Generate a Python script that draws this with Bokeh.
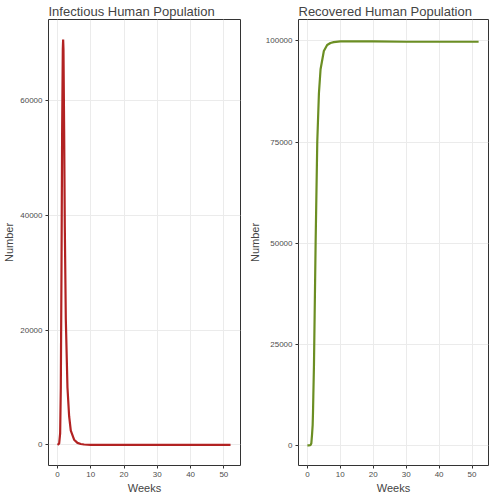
from bokeh.plotting import figure
from bokeh.layouts import row
from bokeh.models import Range1d, NumeralTickFormatter
from bokeh.embed import file_html
from bokeh.resources import INLINE

weeks = [0, 0.5, 0.8, 1.0, 1.2, 1.4, 1.6, 1.7, 1.8, 2.0, 2.2, 2.5, 3.0, 3.5, 4.0, 5.0, 6.0, 7.0, 8.0, 10.0, 15.0, 20.0, 30.0, 40.0, 52.0]
infectious = [0, 200, 2000, 10000, 30000, 55000, 69000, 70700, 69000, 55000, 38000, 22000, 10000, 5000, 2500, 900, 350, 150, 60, 10, 0, 0, 0, 0, 0]
recovered = [0, 0, 10, 100, 500, 2500, 5000, 8000, 12000, 20000, 32000, 50000, 75000, 87000, 93000, 97500, 99000, 99500, 99700, 99900, 99900, 99900, 99800, 99800, 99800]


def styled(title, width, border_left, y_range, y_ticks):
    p = figure(title=title, width=width, height=496, output_backend="svg",
               toolbar_location=None, x_range=Range1d(-2.7, 55.0), y_range=y_range,
               min_border_left=border_left, min_border_right=4, min_border_top=0,
               min_border_bottom=0)
    p.title.text_font = "Liberation Sans"
    p.title.text_font_size = "13px"
    p.title.text_font_style = "normal"
    p.title.offset = 0
    p.title.standoff = 2
    p.xaxis.axis_label = "Weeks"
    p.yaxis.axis_label = "Number"
    for ax in (p.xaxis, p.yaxis):
        ax.axis_label_text_font = "Liberation Sans"
        ax.axis_label_text_font_size = "11px"
        ax.axis_label_text_font_style = "normal"
        ax.axis_label_standoff = 2
        ax.major_label_standoff = 3
        ax.major_label_text_font = "Liberation Sans"
        ax.major_label_text_font_size = "8px"
        ax.major_label_text_color = "#4d4d4d"
        ax.axis_line_color = None
        ax.major_tick_line_color = "#333333"
        ax.major_tick_out = 3
        ax.major_tick_in = 0
        ax.minor_tick_line_color = None
    p.xaxis.ticker = [0, 10, 20, 30, 40, 50]
    p.yaxis.ticker = y_ticks
    p.yaxis.formatter = NumeralTickFormatter(format="0")
    p.xgrid.grid_line_color = "#ebebeb"
    p.ygrid.grid_line_color = "#ebebeb"
    p.xgrid.minor_grid_line_color = "#f5f5f5"
    p.ygrid.minor_grid_line_color = "#f5f5f5"
    p.outline_line_color = "#333333"
    p.outline_line_width = 1
    return p


p1 = styled("Infectious Human Population", 244, 40, Range1d(-3600, 74200), [0, 20000, 40000, 60000])
p1.line(weeks, infectious, line_width=2.2, color="#b22222")

p2 = styled("Recovered Human Population", 248, 54, Range1d(-5000, 105300), [0, 25000, 50000, 75000, 100000])
p2.line(weeks, recovered, line_width=2.2, color="#6b8e23")

layout = row(p1, p2)
open("out.html", "w").write(file_html(layout, INLINE))
